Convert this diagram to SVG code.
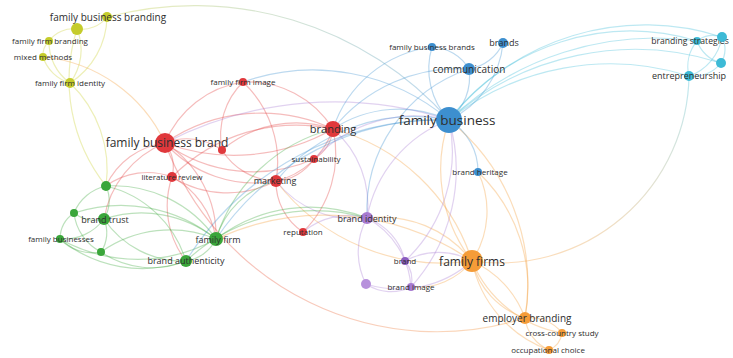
<svg xmlns="http://www.w3.org/2000/svg" width="733" height="358" viewBox="0 0 733 358">
<defs>
<linearGradient id="gYB" gradientUnits="userSpaceOnUse" x1="107" y1="0" x2="449" y2="0"><stop offset="0" stop-color="#c9cf30"/><stop offset="1" stop-color="#3c8fd0"/></linearGradient>
<linearGradient id="gRO" gradientUnits="userSpaceOnUse" x1="165" y1="0" x2="525" y2="0"><stop offset="0" stop-color="#e23b3b"/><stop offset="1" stop-color="#f49a35"/></linearGradient>
<linearGradient id="gCO" gradientUnits="userSpaceOnUse" x1="0" y1="76" x2="0" y2="261"><stop offset="0" stop-color="#3fbcd8"/><stop offset="1" stop-color="#f49a35"/></linearGradient>
</defs>
<style>
path{fill:none;stroke-width:1.2;stroke-opacity:.34}
.ey{stroke:#c9cf30}.er{stroke:#e23b3b}.eg{stroke:#3aa83c}.ep{stroke:#a67bd2}.eo{stroke:#f49a35}.eb{stroke:#3c8fd0}.ec{stroke:#3fbcd8}
.y{fill:#c5cc2b}.r{fill:#e0383c}.g{fill:#3aa63a}.p{fill:#a77ad0}.o{fill:#f59c38}.b{fill:#3d8fcf}.c{fill:#3dbad6}
text{font-family:"Open Sans","Noto Sans",sans-serif;fill:#2e2e2e;text-anchor:middle}
.s8{font-size:8px}.s9{font-size:9px}.s10{font-size:10px}.s11{font-size:11px}.s12{font-size:12px}.s13{font-size:13.5px}
</style>
<g id="connectors">
<path class="ey" d="M107,17 A32,32 0 0 1 77,29"/>
<path class="ey" d="M77,29 A30,30 0 0 0 49,41"/>
<path class="ey" d="M49,41 A20,20 0 0 0 43,57"/>
<path class="ey" d="M43,57 A40,40 0 0 0 70,83"/>
<path class="ey" d="M77,29 A55,55 0 0 1 70,83"/>
<path class="ey" d="M49,41 A50,50 0 0 0 70,83"/>
<path class="ey" d="M107,17 A80,80 0 0 1 70,83"/>
<path class="ey" d="M70,83 A120,120 0 0 1 106,186"/>
<path class="ey" d="M77,29 A170,170 0 0 0 106,186"/>
<path style="stroke:url(#gYB)" d="M107,17 A340,340 0 0 1 449,120"/>
<path class="eo" d="M43,57 A150,150 0 0 1 165,143"/>
<path class="er" d="M165,143 A60,60 0 0 1 222,150"/>
<path class="er" d="M165,143 A40,40 0 0 1 172,177"/>
<path class="er" d="M165,143 A100,100 0 0 1 243,82"/>
<path class="er" d="M243,82 A100,100 0 0 1 333,129"/>
<path class="er" d="M243,82 A75,75 0 0 0 222,150"/>
<path class="er" d="M243,82 A110,110 0 0 1 276,181"/>
<path class="er" d="M165,143 A170,170 0 0 1 333,129"/>
<path class="er" d="M165,143 A200,200 0 0 0 333,129"/>
<path class="er" d="M165,143 A120,120 0 0 0 276,181"/>
<path class="er" d="M165,143 A150,150 0 0 0 314,159"/>
<path class="er" d="M222,150 A115,115 0 0 1 333,129"/>
<path class="er" d="M222,150 A65,65 0 0 0 276,181"/>
<path class="er" d="M172,177 A105,105 0 0 0 276,181"/>
<path class="er" d="M172,177 A175,175 0 0 1 333,129"/>
<path class="er" d="M333,129 A40,40 0 0 1 314,159"/>
<path class="er" d="M333,129 A80,80 0 0 1 276,181"/>
<path class="er" d="M333,129 A110,110 0 0 1 303,232"/>
<path class="er" d="M276,181 A60,60 0 0 0 303,232"/>
<path class="er" d="M314,159 A50,50 0 0 1 276,181"/>
<path class="er" d="M165,143 A75,75 0 0 0 106,186"/>
<path class="er" d="M165,143 A100,100 0 0 0 104,219"/>
<path class="er" d="M165,143 A110,110 0 0 1 216,239"/>
<path class="er" d="M172,177 A70,70 0 0 0 106,186"/>
<path class="er" d="M172,177 A85,85 0 0 1 216,239"/>
<path class="er" d="M172,177 A90,90 0 0 0 186,261"/>
<path style="stroke:url(#gRO)" d="M165,143 A290,290 0 0 0 525,318"/>
<path class="ep" d="M165,143 A370,370 0 0 1 449,120"/>
<path class="eb" d="M333,129 A120,120 0 0 1 449,120"/>
<path class="ep" d="M314,159 A140,140 0 0 1 449,120"/>
<path class="eb" d="M243,82 A210,210 0 0 1 449,120"/>
<path class="ep" d="M333,129 A100,100 0 0 1 367,218"/>
<path class="eo" d="M333,129 A200,200 0 0 1 472,261"/>
<path class="ep" d="M276,181 A100,100 0 0 0 367,218"/>
<path class="ep" d="M303,232 A70,70 0 0 1 367,218"/>
<path class="eo" d="M276,181 A210,210 0 0 0 472,261"/>
<path class="eg" d="M106,186 A45,45 0 0 0 74,213"/>
<path class="eg" d="M106,186 A35,35 0 0 1 104,219"/>
<path class="eg" d="M74,213 A35,35 0 0 0 104,219"/>
<path class="eg" d="M74,213 A32,32 0 0 0 60,239"/>
<path class="eg" d="M104,219 A50,50 0 0 1 60,239"/>
<path class="eg" d="M104,219 A35,35 0 0 1 101,252"/>
<path class="eg" d="M60,239 A45,45 0 0 0 101,252"/>
<path class="eg" d="M74,213 A50,50 0 0 0 101,252"/>
<path class="eg" d="M106,186 A125,125 0 0 1 216,239"/>
<path class="eg" d="M104,219 A120,120 0 0 1 216,239"/>
<path class="eg" d="M104,219 A95,95 0 0 0 186,261"/>
<path class="eg" d="M101,252 A90,90 0 0 0 186,261"/>
<path class="eg" d="M60,239 A130,130 0 0 0 186,261"/>
<path class="eg" d="M101,252 A120,120 0 0 1 216,239"/>
<path class="eg" d="M216,239 A40,40 0 0 1 186,261"/>
<path class="eg" d="M106,186 A110,110 0 0 1 186,261"/>
<path class="eg" d="M216,239 A155,155 0 0 1 367,218"/>
<path class="eg" d="M216,239 A85,85 0 0 1 276,181"/>
<path class="eg" d="M216,239 A165,165 0 0 1 333,129"/>
<path class="eg" d="M74,213 A150,150 0 0 1 216,239"/>
<path class="eg" d="M60,239 A160,160 0 0 0 216,239"/>
<path class="eg" d="M186,261 A190,190 0 0 1 367,218"/>
<path class="eo" d="M216,239 A260,260 0 0 1 472,261"/>
<path class="eb" d="M186,261 A300,300 0 0 1 449,120"/>
<path class="eb" d="M216,239 A270,270 0 0 1 449,120"/>
<path class="ep" d="M367,218 A60,60 0 0 1 405,261"/>
<path class="ep" d="M367,218 A70,70 0 0 0 366,284"/>
<path class="ep" d="M367,218 A85,85 0 0 1 411,287"/>
<path class="ep" d="M366,284 A45,45 0 0 0 411,287"/>
<path class="ep" d="M405,261 A30,30 0 0 1 411,287"/>
<path class="eo" d="M367,218 A115,115 0 0 1 472,261"/>
<path class="ep" d="M367,218 A130,130 0 0 1 449,120"/>
<path class="ep" d="M405,261 A150,150 0 0 0 449,120"/>
<path class="eo" d="M411,287 A70,70 0 0 0 472,261"/>
<path class="ep" d="M366,284 A110,110 0 0 0 472,261"/>
<path class="ep" d="M411,287 A175,175 0 0 0 449,120"/>
<path class="ep" d="M405,261 A70,70 0 0 1 472,261"/>
<path class="eo" d="M472,261 A80,80 0 0 0 525,318"/>
<path class="eo" d="M472,261 A100,100 0 0 1 525,318"/>
<path class="eo" d="M472,261 A120,120 0 0 0 562,333"/>
<path class="eo" d="M472,261 A120,120 0 0 0 549,350"/>
<path class="eo" d="M525,318 A40,40 0 0 1 562,333"/>
<path class="eo" d="M525,318 A40,40 0 0 0 549,350"/>
<path class="eo" d="M562,333 A22,22 0 0 1 549,350"/>
<path class="eo" d="M472,261 A150,150 0 0 1 449,120"/>
<path class="eo" d="M472,261 A90,90 0 0 0 478,172"/>
<path class="eo" d="M525,318 A210,210 0 0 0 449,120"/>
<path class="eo" d="M525,318 A160,160 0 0 0 478,172"/>
<path style="stroke:url(#gCO)" d="M689,76 A190,190 0 0 1 472,261"/>
<path class="eb" d="M449,120 A75,75 0 0 1 432,47"/>
<path class="eb" d="M449,120 A95,95 0 0 0 503,43"/>
<path class="eb" d="M449,120 A55,55 0 0 0 469,69"/>
<path class="eb" d="M449,120 A60,60 0 0 1 478,172"/>
<path class="eb" d="M432,47 A45,45 0 0 1 469,69"/>
<path class="eb" d="M503,43 A45,45 0 0 1 469,69"/>
<path class="ec" d="M449,120 A250,250 0 0 1 722,37"/>
<path class="ec" d="M449,120 A230,230 0 0 1 697,41"/>
<path class="ec" d="M449,120 A280,280 0 0 1 721,63"/>
<path class="ec" d="M449,120 A260,260 0 0 1 689,76"/>
<path class="ec" d="M449,120 A300,300 0 0 1 697,41"/>
<path class="ec" d="M697,41 A25,25 0 0 1 722,37"/>
<path class="ec" d="M697,41 A35,35 0 0 0 721,63"/>
<path class="ec" d="M722,37 A26,26 0 0 1 721,63"/>
<path class="ec" d="M697,41 A40,40 0 0 0 689,76"/>
<path class="ec" d="M722,37 A50,50 0 0 1 689,76"/>
<path class="ec" d="M721,63 A35,35 0 0 1 689,76"/>
<path class="eb" d="M432,47 A120,120 0 0 0 333,129"/>
<path class="eb" d="M469,69 A160,160 0 0 0 333,129"/>
<path class="eb" d="M449,120 A180,180 0 0 0 276,181"/>
<path class="eb" d="M469,69 A150,150 0 0 0 367,218"/>
</g>
<g id="n-family-business-branding"><circle class="y" cx="107" cy="17" r="5"/><text class="s10" x="108" y="20.5">family business branding</text></g>
<g id="n-y-unlabeled"><circle class="y" cx="77" cy="29" r="6"/></g>
<g id="n-family-firm-branding"><circle class="y" cx="49" cy="41" r="4"/><text class="s8" x="50" y="44">family firm branding</text></g>
<g id="n-mixed-methods"><circle class="y" cx="43" cy="57" r="4"/><text class="s8" x="43" y="60">mixed methods</text></g>
<g id="n-family-firm-identity"><circle class="y" cx="70" cy="83" r="5"/><text class="s8" x="70" y="86">family firm identity</text></g>
<g id="n-family-business-brand"><circle class="r" cx="165" cy="143" r="10"/><text class="s12" x="167" y="147">family business brand</text></g>
<g id="n-r-unlabeled"><circle class="r" cx="222" cy="150" r="4"/></g>
<g id="n-literature-review"><circle class="r" cx="172" cy="177" r="5"/><text class="s8" x="172" y="180">literature review</text></g>
<g id="n-family-firm-image"><circle class="r" cx="243" cy="82" r="4"/><text class="s8" x="243" y="85">family firm image</text></g>
<g id="n-branding"><circle class="r" cx="333" cy="129" r="8"/><text class="s11" x="333" y="132.5">branding</text></g>
<g id="n-sustainability"><circle class="r" cx="314" cy="159" r="4"/><text class="s8" x="316" y="162">sustainability</text></g>
<g id="n-marketing"><circle class="r" cx="276" cy="181" r="6"/><text class="s9" x="275" y="184">marketing</text></g>
<g id="n-reputation"><circle class="r" cx="303" cy="232" r="4"/><text class="s8" x="303" y="235">reputation</text></g>
<g id="n-g-unlabeled-1"><circle class="g" cx="106" cy="186" r="5"/></g>
<g id="n-g-unlabeled-2"><circle class="g" cx="74" cy="213" r="4"/></g>
<g id="n-brand-trust"><circle class="g" cx="104" cy="219" r="6"/><text class="s9" x="105" y="222.5">brand trust</text></g>
<g id="n-family-businesses"><circle class="g" cx="60" cy="239" r="4"/><text class="s8" x="61" y="242">family businesses</text></g>
<g id="n-g-unlabeled-3"><circle class="g" cx="101" cy="252" r="4"/></g>
<g id="n-family-firm"><circle class="g" cx="216" cy="239" r="7"/><text class="s9" x="218" y="242.5">family firm</text></g>
<g id="n-brand-authenticity"><circle class="g" cx="186" cy="261" r="6"/><text class="s9" x="186" y="264">brand authenticity</text></g>
<g id="n-brand-identity"><circle class="p" cx="367" cy="218" r="6"/><text class="s9" x="367" y="221.5">brand identity</text></g>
<g id="n-brand"><circle class="p" cx="405" cy="261" r="4" style="fill:#8a5cc0"/><text class="s8" x="405" y="264">brand</text></g>
<g id="n-p-unlabeled"><circle class="p" cx="366" cy="284" r="5" style="fill:#b791dc"/></g>
<g id="n-brand-image"><circle class="p" cx="411" cy="287" r="4"/><text class="s8" x="411" y="290">brand image</text></g>
<g id="n-family-firms"><circle class="o" cx="472" cy="261" r="11"/><text class="s12" x="472" y="265.5">family firms</text></g>
<g id="n-employer-branding"><circle class="o" cx="525" cy="318" r="6"/><text class="s10" x="527" y="321.5">employer branding</text></g>
<g id="n-cross-country-study"><circle class="o" cx="562" cy="333" r="4"/><text class="s8" x="562" y="336">cross-country study</text></g>
<g id="n-occupational-choice"><circle class="o" cx="549" cy="350" r="4"/><text class="s8" x="548" y="353">occupational choice</text></g>
<g id="n-family-business"><circle class="b" cx="449" cy="120" r="13"/><text class="s13" x="447" y="125">family business</text></g>
<g id="n-family-business-brands"><circle class="b" cx="432" cy="47" r="4"/><text class="s8" x="432" y="50">family business brands</text></g>
<g id="n-brands"><circle class="b" cx="503" cy="43" r="5"/><text class="s9" x="504" y="46">brands</text></g>
<g id="n-communication"><circle class="b" cx="469" cy="69" r="6"/><text class="s10" x="469" y="72.5">communication</text></g>
<g id="n-brand-heritage"><circle class="b" cx="478" cy="172" r="4"/><text class="s8" x="480" y="175">brand heritage</text></g>
<g id="n-branding-strategies"><circle class="c" cx="697" cy="41" r="4"/><text class="s9" x="690" y="44" style="font-size:8.6px">branding strategies</text></g>
<g id="n-c-unlabeled-1"><circle class="c" cx="722" cy="37" r="5"/></g>
<g id="n-c-unlabeled-2"><circle class="c" cx="721" cy="63" r="5"/></g>
<g id="n-entrepreneurship"><circle class="c" cx="689" cy="76" r="5"/><text class="s9" x="689" y="79">entrepreneurship</text></g>
</svg>
